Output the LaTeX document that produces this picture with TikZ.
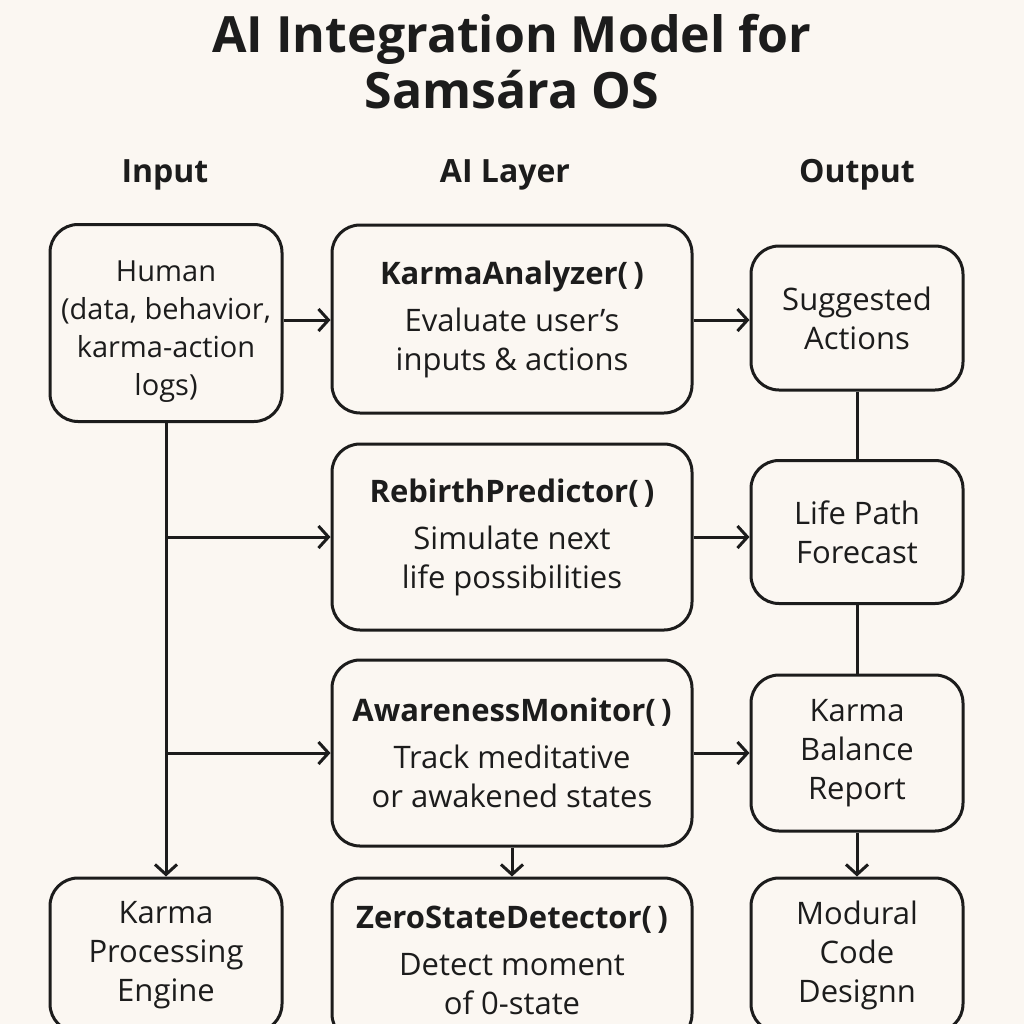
\documentclass[tikz,border=0pt]{standalone}
\usepackage{fontspec}
\setmainfont{Open Sans}
\usetikzlibrary{arrows.meta}
\definecolor{paper}{HTML}{FBF7F2}
\definecolor{ink}{HTML}{1C1C1C}
\newcommand\fname[1]{{\bfseries #1(\,)}}
\tikzset{
  box/.style={draw=ink, line width=1.5pt, rounded corners=14pt, align=center, text=ink,
    font=\fontsize{15.5}{19.5}\selectfont, inner sep=0pt},
  link/.style={draw=ink, line width=1.5pt},
  arrow/.style={link, -{Straight Barb[length=5pt,width=11pt]}},
  colhead/.style={font=\fontsize{16}{20}\selectfont\bfseries, text=ink},
}
\begin{document}
\begin{tikzpicture}[x=0.5pt,y=-0.5pt]
	\fill[paper] (0,0) rectangle (1024,1024);
	\useasboundingbox (0,0) rectangle (1024,1024);
	% title and column heads
	\node[font=\fontsize{25}{28}\selectfont\bfseries, text=ink, align=center] (title) at (512,62)
		{AI Integration Model for\\Samsára OS};
	\node[colhead] (hin) at (165,175) {Input};
	\node[colhead] (hai) at (505,175) {AI Layer};
	\node[colhead] (hout) at (857,175) {Output};
	% input column
	\node[box, font=\fontsize{14.5}{19}\selectfont, minimum width=116pt, minimum height=98.5pt] (human) at (166,323)
		{\rule{0pt}{19pt}Human\\(data, behavior,\\karma-action\\logs)};
	\node[box, minimum width=116pt, minimum height=77pt] (engine) at (166,955)
		{Karma\\Processing\\Engine};
	% AI layer
	\node[box, minimum width=180pt, minimum height=94pt] (ka) at (512,319)
		{\fname{KarmaAnalyzer}\\[4pt]Evaluate user’s\\inputs \& actions};
	\node[box, minimum width=180pt, minimum height=93pt] (rp) at (512,537)
		{\fname{RebirthPredictor}\\[4pt]Simulate next\\life possibilities};
	\node[box, minimum width=180pt, minimum height=93pt] (am) at (512,753)
		{\fname{AwarenessMonitor}\\[4pt]Track meditative\\or awakened states};
	\node[box, minimum width=180pt, minimum height=82pt] (zs) at (512,960)
		{\fname{ZeroStateDetector}\\[4pt]Detect moment\\of 0-state};
	% output column
	\node[box, minimum width=106pt, minimum height=72pt] (sa) at (857,318)
		{Suggested\\Actions};
	\node[box, minimum width=106pt, minimum height=71.5pt] (lp) at (857,532)
		{Life Path\\Forecast};
	\node[box, minimum width=106pt, minimum height=78pt] (kb) at (857,753)
		{Karma\\Balance\\Report};
	\node[box, minimum width=106pt, minimum height=77pt] (mc) at (857,955)
		{Modural\\Code\\Designn};
	% connectors
	\draw[arrow] (human.east |- 0,320) -- (ka.west |- 0,320);
	\draw[arrow] (human.south) -- (engine.north);
	\draw[arrow] (human.south |- rp.west) -- (rp.west);
	\draw[arrow] (human.south |- am.west) -- (am.west);
	\draw[arrow] (ka.east |- 0,320) -- (sa.west |- 0,320);
	\draw[arrow] (rp.east) -- (rp.east -| lp.west);
	\draw[arrow] (am.east) -- (am.east -| kb.west);
	\draw[arrow] (am.south) -- (zs.north);
	\draw[link] (sa.south) -- (lp.north);
	\draw[link] (lp.south) -- (kb.north);
	\draw[arrow] (kb.south) -- (mc.north);
\end{tikzpicture}
\end{document}
